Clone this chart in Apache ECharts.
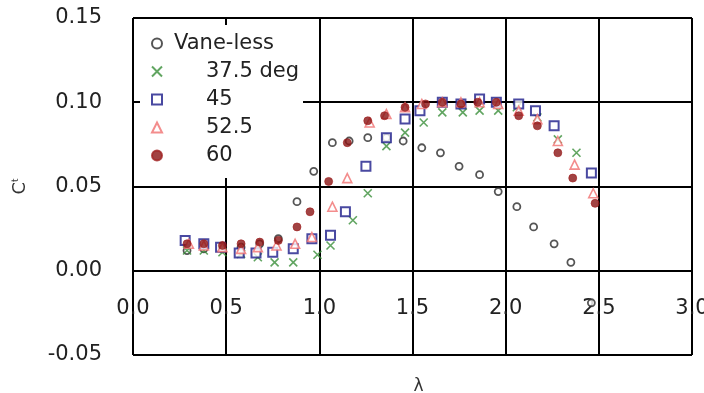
<!DOCTYPE html>
<html>
<head>
<meta charset="utf-8">
<script src="https://cdn.jsdelivr.net/npm/echarts@6/dist/echarts.min.js"></script>
<style>
  html, body { margin: 0; padding: 0; background: #fff; }
  #chart { width: 704px; height: 393px; }
</style>
</head>
<body>
<div id="chart"></div>
<script>
// Torque coefficient Ct versus tip speed ratio λ for each guide-vane angle
const seriesNames = ['Vane-less', '37.5 deg', '45', '52.5', '60'];

const vaneLessLambda = [0.29, 0.38, 0.48, 0.58, 0.68, 0.78, 0.88, 0.97, 1.07, 1.16, 1.26, 1.36, 1.45, 1.55, 1.65, 1.75, 1.86, 1.96, 2.06, 2.15, 2.26, 2.35, 2.46];
const vaneLessCt     = [0.012, 0.013, 0.013, 0.014, 0.016, 0.019, 0.041, 0.059, 0.076, 0.077, 0.079, 0.079, 0.077, 0.073, 0.070, 0.062, 0.057, 0.047, 0.038, 0.026, 0.016, 0.005, -0.019];

const deg375Lambda = [0.29, 0.38, 0.48, 0.58, 0.67, 0.76, 0.86, 0.99, 1.06, 1.18, 1.26, 1.36, 1.46, 1.56, 1.66, 1.77, 1.86, 1.96, 2.06, 2.17, 2.28, 2.38];
const deg375Ct     = [0.012, 0.012, 0.011, 0.010, 0.008, 0.005, 0.005, 0.0095, 0.015, 0.030, 0.046, 0.074, 0.082, 0.088, 0.094, 0.094, 0.095, 0.095, 0.097, 0.091, 0.078, 0.070];

const deg45Lambda = [0.28, 0.38, 0.47, 0.57, 0.66, 0.75, 0.86, 0.96, 1.06, 1.14, 1.25, 1.36, 1.46, 1.54, 1.66, 1.76, 1.86, 1.95, 2.07, 2.16, 2.26, 2.46];
const deg45Ct     = [0.018, 0.016, 0.014, 0.0105, 0.0105, 0.011, 0.013, 0.019, 0.021, 0.035, 0.062, 0.079, 0.090, 0.095, 0.100, 0.099, 0.102, 0.100, 0.099, 0.095, 0.086, 0.058];

const deg525Lambda = [0.30, 0.38, 0.48, 0.58, 0.67, 0.77, 0.87, 0.96, 1.07, 1.15, 1.27, 1.36, 1.46, 1.55, 1.66, 1.76, 1.86, 1.96, 2.07, 2.17, 2.28, 2.37, 2.47];
const deg525Ct     = [0.016, 0.015, 0.014, 0.013, 0.014, 0.015, 0.016, 0.020, 0.038, 0.055, 0.088, 0.093, 0.097, 0.099, 0.100, 0.100, 0.100, 0.099, 0.095, 0.090, 0.077, 0.063, 0.046];

const deg60Lambda = [0.29, 0.38, 0.48, 0.58, 0.68, 0.78, 0.88, 0.95, 1.05, 1.15, 1.26, 1.35, 1.46, 1.57, 1.66, 1.76, 1.85, 1.95, 2.07, 2.17, 2.28, 2.36, 2.48];
const deg60Ct     = [0.016, 0.016, 0.015, 0.016, 0.017, 0.018, 0.026, 0.035, 0.053, 0.076, 0.089, 0.092, 0.097, 0.099, 0.100, 0.099, 0.100, 0.100, 0.092, 0.086, 0.070, 0.055, 0.040];

const zip = (xs, ys) => xs.map((x, i) => [x, ys[i]]);

const FONT = 'DejaVu Sans';
const CROSS = 'path://M0,0L10,10M10,0L0,10';

const chart = echarts.init(document.getElementById('chart'), null, { renderer: 'canvas' });

chart.setOption({
  backgroundColor: '#ffffff',
  animation: false,
  grid: { left: 133, right: 12, top: 18, bottom: 38, containLabel: false, outerBoundsMode: 'none' },
  legend: {
    orient: 'vertical',
    left: 140,
    top: 25,
    backgroundColor: '#ffffff',
    padding: [8, 4, 12, 11],
    itemWidth: 10,
    itemHeight: 10,
    itemGap: 7,
    data: seriesNames,
    formatter: (name) => name === 'Vane-less' ? '{a|' + name + '}' : '{b|' + name + '}',
    textStyle: {
      fontFamily: FONT,
      fontSize: 21,
      color: '#222',
      lineHeight: 21,
      rich: {
        a: { fontFamily: FONT, fontSize: 21, color: '#222', padding: [0, 0, 0, 7] },
        b: { fontFamily: FONT, fontSize: 21, color: '#222', padding: [0, 0, 0, 39] }
      }
    }
  },
  xAxis: {
    type: 'value',
    min: 0,
    max: 3,
    interval: 0.5,
    name: 'λ',
    nameLocation: 'middle',
    nameGap: 23,
    nameTextStyle: { fontFamily: FONT, fontSize: 17, color: '#333', padding: [0, 0, 0, 12] },
    axisLine: { show: false, onZero: false },
    axisTick: { show: false },
    // tick labels sit in the band between the 0.00 and -0.05 grid lines
    axisLabel: {
      margin: -57,
      fontFamily: FONT,
      fontSize: 21,
      color: '#222',
      formatter: (v) => v.toFixed(1)
    },
    splitLine: { show: true, lineStyle: { color: '#000', width: 2 } }
  },
  yAxis: {
    type: 'value',
    min: -0.05,
    max: 0.15,
    interval: 0.05,
    name: '{c|C}{s|t}',
    nameLocation: 'middle',
    nameGap: 104,
    nameTextStyle: {
      rich: {
        c: { fontFamily: FONT, fontSize: 18, color: '#333' },
        s: { fontFamily: FONT, fontSize: 9, color: '#333', verticalAlign: 'bottom', padding: [0, 0, 9, 0] }
      }
    },
    axisLine: { show: false, onZero: false },
    axisTick: { show: false },
    axisLabel: {
      margin: 31,
      fontFamily: FONT,
      fontSize: 21,
      color: '#222',
      formatter: (v) => v.toFixed(2)
    },
    splitLine: { show: true, lineStyle: { color: '#000', width: 2 } }
  },
  series: [
    {
      name: 'Vane-less',
      type: 'scatter',
      symbol: 'circle',
      symbolSize: 7,
      itemStyle: { color: '#ffffff', borderColor: '#2a2a2a', borderWidth: 1.8 },
      data: zip(vaneLessLambda, vaneLessCt)
    },
    {
      name: '37.5 deg',
      type: 'scatter',
      symbol: CROSS,
      symbolSize: 8,
      itemStyle: { color: 'rgba(0,0,0,0)', borderColor: '#3a8f3a', borderWidth: 1.6 },
      data: zip(deg375Lambda, deg375Ct)
    },
    {
      name: '45',
      type: 'scatter',
      symbol: 'rect',
      symbolSize: 9,
      itemStyle: { color: '#ffffff', borderColor: '#1c1c8a', borderWidth: 2 },
      data: zip(deg45Lambda, deg45Ct)
    },
    {
      name: '52.5',
      type: 'scatter',
      symbol: 'triangle',
      symbolSize: 9,
      itemStyle: { color: '#ffffff', borderColor: '#f07070', borderWidth: 1.6 },
      data: zip(deg525Lambda, deg525Ct)
    },
    {
      name: '60',
      type: 'scatter',
      symbol: 'circle',
      symbolSize: 8,
      itemStyle: { color: '#8a1414', borderColor: '#a02020', borderWidth: 0.8 },
      data: zip(deg60Lambda, deg60Ct)
    }
  ]
});
</script>
</body>
</html>
